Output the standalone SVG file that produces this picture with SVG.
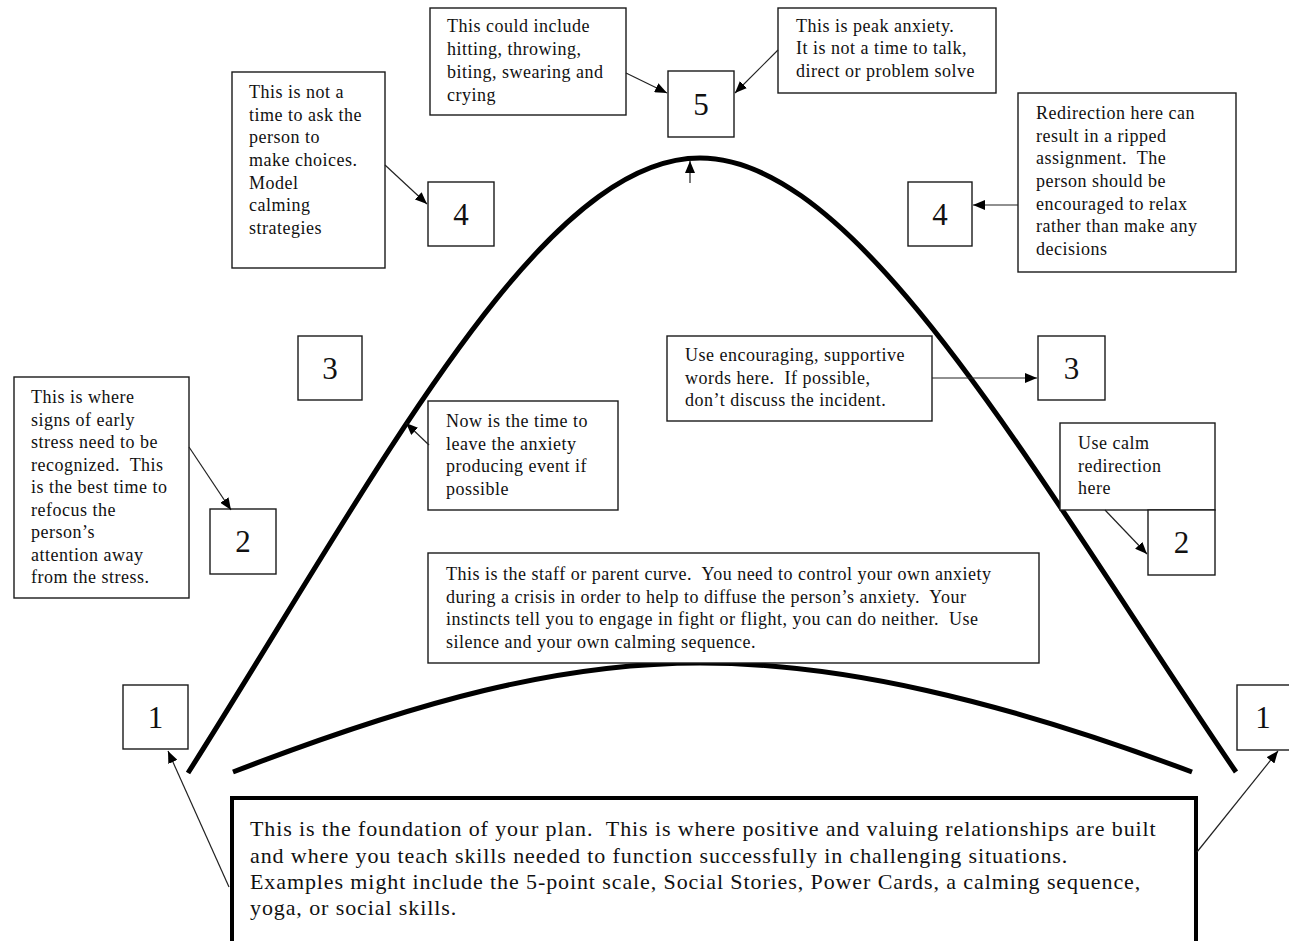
<svg xmlns="http://www.w3.org/2000/svg" width="1289" height="941" viewBox="0 0 1289 941">
<defs>
<style>
.bx{fill:#fff;stroke:#1a1a1a;stroke-width:1.4}
.t{font-family:"Liberation Serif","Times New Roman",serif;font-size:18px;letter-spacing:0.5px;fill:#111;white-space:pre}
.f{font-family:"Liberation Serif","Times New Roman",serif;font-size:22px;letter-spacing:0.9px;fill:#111;white-space:pre}
.n{font-family:"Liberation Serif","Times New Roman",serif;font-size:31px;fill:#111;text-anchor:middle}
.c{fill:none;stroke:#000;stroke-width:5;stroke-linecap:butt}
.a{fill:none;stroke:#222;stroke-width:1.2}
</style>
<marker id="ah" viewBox="0 0 12 10" refX="12" refY="5" markerWidth="12" markerHeight="10" markerUnits="userSpaceOnUse" orient="auto">
<path d="M0,0 L12,5 L0,10 z" fill="#000"/>
</marker>
</defs>
<rect width="1289" height="941" fill="#fff"/>

<g id="curves">
<path class="c" d="M188,773 C378,473 540,158 700,158 C860,158 1036,478 1236,772"/>
<path class="c" d="M233,772 C420,700 560,663 700,663 C840,663 1000,700 1192,772" stroke-width="4"/>
</g>

<g id="note-5a">
<rect class="bx" x="430" y="8" width="196" height="107"/>
<text class="t" x="447" y="32">This could include</text>
<text class="t" x="447" y="55">hitting, throwing,</text>
<text class="t" x="447" y="78">biting, swearing and</text>
<text class="t" x="447" y="101">crying</text>
</g>
<g id="level-5">
<rect class="bx" x="668" y="71" width="66" height="66"/>
<text class="n" x="701" y="115">5</text>
</g>
<g id="note-5b">
<rect class="bx" x="778" y="8" width="218" height="85"/>
<text class="t" x="796" y="32">This is peak anxiety.</text>
<text class="t" x="796" y="54">It is not a time to talk,</text>
<text class="t" x="796" y="77">direct or problem solve</text>
</g>

<g id="note-4a">
<rect class="bx" x="232" y="72" width="153" height="196"/>
<text class="t" x="249" y="98">This is not a</text>
<text class="t" x="249" y="121">time to ask the</text>
<text class="t" x="249" y="143">person to</text>
<text class="t" x="249" y="166">make choices.</text>
<text class="t" x="249" y="189">Model</text>
<text class="t" x="249" y="211">calming</text>
<text class="t" x="249" y="234">strategies</text>
</g>
<g id="level-4-left">
<rect class="bx" x="428" y="182" width="66" height="64"/>
<text class="n" x="461" y="225">4</text>
</g>
<g id="level-4-right">
<rect class="bx" x="908" y="182" width="64" height="64"/>
<text class="n" x="940" y="225">4</text>
</g>
<g id="note-4b">
<rect class="bx" x="1018" y="93" width="218" height="179"/>
<text class="t" x="1036" y="119">Redirection here can</text>
<text class="t" x="1036" y="142">result in a ripped</text>
<text class="t" x="1036" y="164">assignment.  The</text>
<text class="t" x="1036" y="187">person should be</text>
<text class="t" x="1036" y="210">encouraged to relax</text>
<text class="t" x="1036" y="232">rather than make any</text>
<text class="t" x="1036" y="255">decisions</text>
</g>

<g id="level-3-left">
<rect class="bx" x="298" y="336" width="64" height="64"/>
<text class="n" x="330" y="379">3</text>
</g>
<g id="note-3a">
<rect class="bx" x="428" y="401" width="190" height="109"/>
<text class="t" x="446" y="427">Now is the time to</text>
<text class="t" x="446" y="450">leave the anxiety</text>
<text class="t" x="446" y="472">producing event if</text>
<text class="t" x="446" y="495">possible</text>
</g>
<g id="note-3b">
<rect class="bx" x="667" y="336" width="265" height="85"/>
<text class="t" x="685" y="361">Use encouraging, supportive</text>
<text class="t" x="685" y="384">words here.  If possible,</text>
<text class="t" x="685" y="406">don’t discuss the incident.</text>
</g>
<g id="level-3-right">
<rect class="bx" x="1038" y="336" width="67" height="64"/>
<text class="n" x="1071.5" y="379">3</text>
</g>

<g id="note-2a">
<rect class="bx" x="14" y="377" width="175" height="221"/>
<text class="t" x="31" y="403">This is where</text>
<text class="t" x="31" y="426">signs of early</text>
<text class="t" x="31" y="448">stress need to be</text>
<text class="t" x="31" y="471">recognized.  This</text>
<text class="t" x="31" y="493">is the best time to</text>
<text class="t" x="31" y="516">refocus the</text>
<text class="t" x="31" y="538">person’s</text>
<text class="t" x="31" y="561">attention away</text>
<text class="t" x="31" y="583">from the stress.</text>
</g>
<g id="level-2-left">
<rect class="bx" x="210" y="509" width="66" height="65"/>
<text class="n" x="243" y="552">2</text>
</g>
<g id="note-2b">
<rect class="bx" x="1060" y="423" width="155" height="87"/>
<text class="t" x="1078" y="449">Use calm</text>
<text class="t" x="1078" y="472">redirection</text>
<text class="t" x="1078" y="494">here</text>
</g>
<g id="level-2-right">
<rect class="bx" x="1148" y="510" width="67" height="65"/>
<text class="n" x="1181.5" y="553">2</text>
</g>

<g id="note-staff">
<rect class="bx" x="428" y="553" width="611" height="110"/>
<text class="t" x="446" y="580">This is the staff or parent curve.  You need to control your own anxiety</text>
<text class="t" x="446" y="603">during a crisis in order to help to diffuse the person’s anxiety.  Your</text>
<text class="t" x="446" y="625">instincts tell you to engage in fight or flight, you can do neither.  Use</text>
<text class="t" x="446" y="648">silence and your own calming sequence.</text>
</g>

<g id="level-1-left">
<rect class="bx" x="123" y="685" width="65" height="64"/>
<text class="n" x="155.5" y="728">1</text>
</g>
<g id="level-1-right">
<rect class="bx" x="1237" y="685" width="65" height="65"/>
<text class="n" x="1263" y="728">1</text>
</g>

<g id="note-foundation">
<rect x="232" y="798" width="964" height="150" fill="#fff" stroke="#000" stroke-width="4"/>
<text class="f" x="250" y="836">This is the foundation of your plan.  This is where positive and valuing relationships are built</text>
<text class="f" x="250" y="863">and where you teach skills needed to function successfully in challenging situations.</text>
<text class="f" x="250" y="889">Examples might include the 5-point scale, Social Stories, Power Cards, a calming sequence,</text>
<text class="f" x="250" y="915">yoga, or social skills.</text>
</g>

<g id="connectors">
<line class="a" x1="626" y1="73" x2="667" y2="93" marker-end="url(#ah)"/>
<line class="a" x1="778" y1="50" x2="735" y2="93" marker-end="url(#ah)"/>
<line class="a" x1="385" y1="165" x2="427" y2="204" marker-end="url(#ah)"/>
<line class="a" x1="690" y1="183" x2="690" y2="161" marker-end="url(#ah)"/>
<line class="a" x1="1018" y1="205" x2="973" y2="205" marker-end="url(#ah)"/>
<line class="a" x1="189" y1="447" x2="231" y2="510" marker-end="url(#ah)"/>
<line class="a" x1="429" y1="445" x2="406" y2="423" marker-end="url(#ah)"/>
<line class="a" x1="932" y1="378" x2="1037" y2="378" marker-end="url(#ah)"/>
<line class="a" x1="1105" y1="510" x2="1147" y2="554" marker-end="url(#ah)"/>
<line class="a" x1="229" y1="887" x2="168" y2="751" marker-end="url(#ah)"/>
<line class="a" x1="1197" y1="852" x2="1278" y2="751" marker-end="url(#ah)"/>
</g>
</svg>
